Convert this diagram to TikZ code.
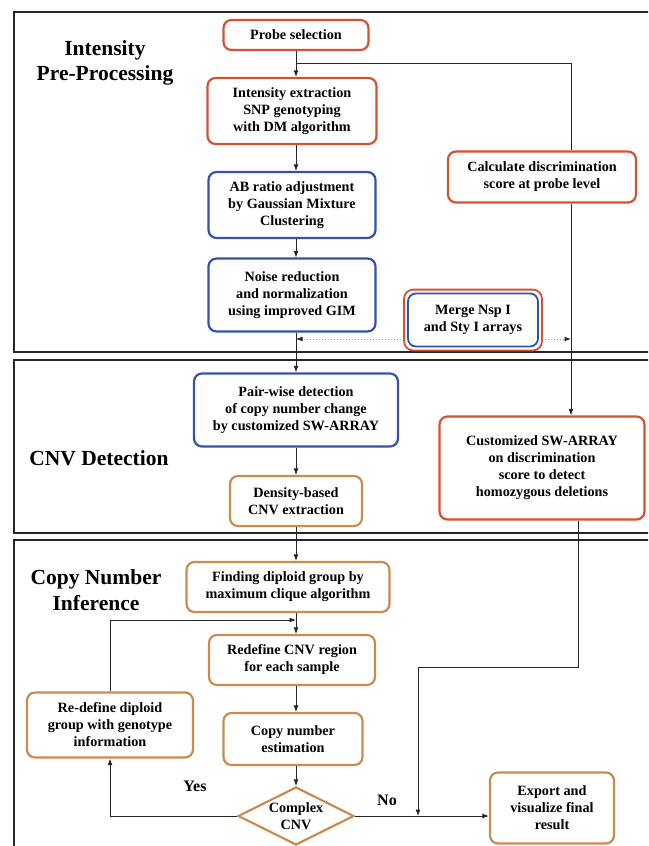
\documentclass[tikz,border=0pt]{standalone}
\usepackage{fontspec}
\setmainfont{Liberation Serif}
\usetikzlibrary{shapes.geometric,arrows.meta}
\definecolor{boxred}{RGB}{212,82,52}
\definecolor{boxblue}{RGB}{52,82,168}
\definecolor{boxtan}{RGB}{200,140,78}

\begin{document}
\begin{tikzpicture}[x=1pt, y=-1pt, >={Latex[length=6.5pt,width=5pt]},
	every node/.style={font=\fontsize{14.2}{17}\selectfont\bfseries, align=center},
	box/.style={draw, rounded corners=8pt, line width=2.2pt, inner sep=2pt},
	redbox/.style={box, draw=boxred},
	bluebox/.style={box, draw=boxblue},
	tanbox/.style={box, draw=boxtan},
	link/.style={line width=0.9pt, black!85},
	flow/.style={link, ->},
	dotlink/.style={-{Latex[length=6.5pt,width=5pt,color=black!85]}, line width=1pt, black!40, dotted},
	panel/.style={line width=1.8pt, black!85},
	heading/.style={font=\fontsize{21.5}{25.5}\selectfont\bfseries}]
	\clip (0,0) rectangle (648,846);
	% three stages
	\draw[panel] (14,12) rectangle (660,352);
	\draw[panel] (14,360) rectangle (660,533);
	\draw[panel] (14,540) rectangle (660,870);
	\node[heading] (pretitle) at (105,63) {Intensity\\Pre-Processing};
	\node[heading] (cnvtitle) at (99,458) {CNV Detection};
	\node[heading] (cntitle) at (96,590) {Copy Number\\Inference};
	% pre-processing
	\node[redbox, minimum width=145pt, minimum height=30pt] (probe) at (296,35) {Probe selection};
	\node[redbox, minimum width=169pt, minimum height=66pt] (extract) at (292,111) {Intensity extraction\\SNP genotyping\\with DM algorithm};
	\node[bluebox, minimum width=167pt, minimum height=66pt] (abratio) at (292,205) {AB ratio adjustment\\by Gaussian Mixture\\Clustering};
	\node[bluebox, minimum width=167pt, minimum height=73pt] (noise) at (292,295) {Noise reduction\\and normalization\\using improved GIM};
	\node[redbox, minimum width=188pt, minimum height=51pt] (calc) at (542,177) {Calculate discrimination\\score at probe level};
	\node[bluebox, line width=1.8pt, minimum width=130pt, minimum height=53pt] (merge) at (473,320) {Merge Nsp I\\and Sty I arrays};
	\draw[boxred, line width=1.8pt, rounded corners=9pt] ([shift={(-3pt,3pt)}]merge.north west) rectangle ([shift={(3pt,-3pt)}]merge.south east);
	% detection
	\node[bluebox, minimum width=204pt, minimum height=73pt] (pairwise) at (296,410) {Pair-wise detection\\of copy number change\\by customized SW-ARRAY};
	\node[tanbox, minimum width=132pt, minimum height=50pt] (density) at (296,501) {Density-based\\CNV extraction};
	\node[redbox, minimum width=205pt, minimum height=103pt] (custom) at (542,468) {Customized SW-ARRAY\\on discrimination\\score to detect\\homozygous deletions};
	% inference
	\node[tanbox, minimum width=203pt, minimum height=50pt] (finding) at (288,587) {Finding diploid group by\\maximum clique algorithm};
	\node[tanbox, minimum width=166pt, minimum height=50pt] (redefine) at (292,660) {Redefine CNV region\\for each sample};
	\node[tanbox, minimum width=139pt, minimum height=52pt] (cnest) at (293,739) {Copy number\\estimation};
	\node[tanbox, minimum width=166pt, minimum height=65pt] (rediploid) at (110,725) {Re-define diploid\\group with genotype\\information};
	\node[diamond, draw=boxtan, line width=2.2pt, aspect=2, inner sep=0pt, minimum width=116pt, minimum height=58pt] (complex) at (296,816) {Complex\\CNV};
	\node[tanbox, minimum width=124pt, minimum height=71pt] (export) at (552,808) {Export and\\visualize final\\result};
	\node[font=\fontsize{16}{19}\selectfont\bfseries] (yes) at (195,786) {Yes};
	\node[font=\fontsize{16}{19}\selectfont\bfseries] (no) at (387,800) {No};
	% connectors
	\coordinate (col) at (296,0);
	\coordinate (split) at (296,63);
	\coordinate (tap) at (571,0);
	\coordinate (dotL) at (296,339);
	\coordinate (dotR) at (571,339);
	\coordinate (loop) at (296,620);
	\coordinate (drop) at (578,0);
	\coordinate (bend) at (418,667);
	\draw[flow] (probe.south -| col) -- (extract.north -| col);
	\draw[link] (split) -| (calc.north -| tap);
	\draw[flow] (calc.south -| tap) -- (custom.north -| tap);
	\draw[flow] (extract.south -| col) -- (abratio.north -| col);
	\draw[flow] (abratio.south -| col) -- (noise.north -| col);
	\draw[flow] (noise.south -| col) -- (pairwise.north -| col);
	\draw[dotlink] ([xshift=-3pt]merge.west |- dotL) -- (dotL);
	\draw[dotlink] ([xshift=3pt]merge.east |- dotR) -- (dotR);
	\draw[flow] (pairwise.south -| col) -- (density.north -| col);
	\draw[flow] (density.south -| col) -- (finding.north -| col);
	\draw[flow] (finding.south -| col) -- (redefine.north -| col);
	\draw[flow] (rediploid.north) |- (loop);
	\draw[flow] (redefine.south -| col) -- (cnest.north -| col);
	\draw[flow] (cnest.south -| col) -- (complex.north);
	\draw[flow] (complex.west) -| (rediploid.south);
	\draw[flow] (complex.east) -- (complex.east -| export.west);
	\draw[flow] (custom.south -| drop) |- (bend) -- (bend |- complex.east);
\end{tikzpicture}
\end{document}
